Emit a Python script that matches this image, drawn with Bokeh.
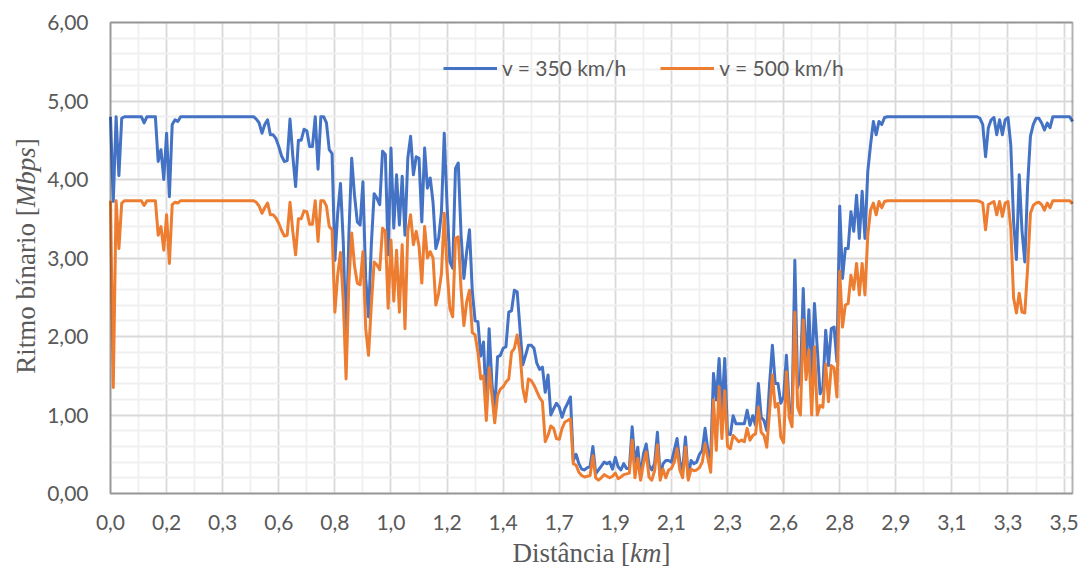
from math import pi

from bokeh.embed import file_html
from bokeh.models import (BoxAnnotation, ColumnDataSource, FixedTicker, Label,
                          Legend, LegendItem, Range1d)
from bokeh.plotting import figure
from bokeh.resources import INLINE

# Distance labels shown every `label_step` samples along the route
dist_labels = ["0,0", "0,2", "0,3", "0,6", "0,8", "1,0", "1,2", "1,4", "1,7",
               "1,9", "2,1", "2,3", "2,6", "2,8", "2,9", "3,1", "3,3", "3,5"]
label_step = 20

y_ticks = [0, 1, 2, 3, 4, 5, 6]
y_labels = ["0,00", "1,00", "2,00", "3,00", "4,00", "5,00", "6,00"]

# Bit rate [Mbps] per sample, train at 350 km/h
rate_350 = [
    4.80, 3.72, 4.80, 4.05, 4.78, 4.80, 4.80, 4.80, 4.80, 4.80,
    4.80, 4.80, 4.72, 4.80, 4.80, 4.80, 4.80, 4.23, 4.38, 4.00,
    4.59, 3.78, 4.70, 4.76, 4.74, 4.80, 4.80, 4.80, 4.80, 4.80,
    4.80, 4.80, 4.80, 4.80, 4.80, 4.80, 4.80, 4.80, 4.80, 4.80,
    4.80, 4.80, 4.80, 4.80, 4.80, 4.80, 4.80, 4.80, 4.80, 4.80,
    4.80, 4.80, 4.77, 4.72, 4.59, 4.70, 4.76, 4.57, 4.57, 4.52,
    4.42, 4.30, 4.23, 4.24, 4.77, 4.30, 3.91, 4.50, 4.50, 4.64,
    4.62, 4.42, 4.42, 4.80, 4.13, 4.80, 4.80, 4.72, 4.38, 4.33,
    2.97, 3.57, 3.95, 3.20, 1.90, 3.30, 4.27, 3.80, 3.46, 3.42,
    3.97, 2.74, 2.25, 3.17, 3.82, 3.76, 3.68, 4.36, 4.32, 3.04,
    4.40, 3.38, 4.06, 3.42, 4.04, 3.29, 4.27, 4.55, 4.06, 4.29,
    4.27, 3.46, 4.40, 3.89, 4.02, 3.71, 3.12, 3.25, 3.59, 4.59,
    3.67, 2.95, 2.87, 4.14, 4.21, 3.29, 2.74, 3.08, 3.36, 2.57,
    2.20, 2.19, 1.75, 1.93, 1.10, 2.10, 1.40, 1.05, 1.74, 1.76,
    1.85, 1.87, 2.31, 2.33, 2.59, 2.57, 2.10, 1.64, 1.76, 1.89,
    1.89, 1.85, 1.66, 1.58, 1.61, 1.29, 1.51, 1.00, 1.08, 1.15,
    1.10, 0.97, 1.08, 1.15, 1.23, 0.42, 0.50, 0.38, 0.31, 0.30,
    0.33, 0.34, 0.60, 0.25, 0.30, 0.35, 0.40, 0.38, 0.40, 0.31,
    0.46, 0.34, 0.30, 0.38, 0.32, 0.32, 0.85, 0.38, 0.59, 0.20,
    0.50, 0.63, 0.36, 0.30, 0.38, 0.78, 0.22, 0.38, 0.42, 0.42,
    0.40, 0.55, 0.70, 0.40, 0.30, 0.72, 0.21, 0.42, 0.38, 0.40,
    0.50, 0.55, 0.83, 0.55, 0.45, 1.53, 1.19, 1.72, 1.06, 1.72,
    0.76, 0.75, 0.99, 0.89, 0.89, 0.89, 0.89, 1.06, 0.87, 0.99,
    0.87, 1.40, 0.97, 0.93, 0.80, 1.40, 1.89, 1.40, 1.40, 1.15,
    1.23, 1.76, 1.10, 1.00, 2.97, 1.35, 1.48, 2.61, 1.55, 2.34,
    1.48, 2.42, 1.85, 1.27, 1.35, 2.08, 1.63, 2.10, 2.12, 1.68,
    3.66, 2.74, 3.12, 3.12, 3.59, 3.34, 3.80, 3.25, 3.85, 3.25,
    4.10, 4.44, 4.74, 4.57, 4.74, 4.70, 4.79, 4.80, 4.80, 4.80,
    4.80, 4.80, 4.80, 4.80, 4.80, 4.80, 4.80, 4.80, 4.80, 4.80,
    4.80, 4.80, 4.80, 4.80, 4.80, 4.80, 4.80, 4.80, 4.80, 4.80,
    4.80, 4.80, 4.80, 4.80, 4.80, 4.80, 4.80, 4.80, 4.80, 4.80,
    4.78, 4.70, 4.29, 4.66, 4.76, 4.79, 4.57, 4.76, 4.57, 4.76,
    4.79, 4.44, 3.46, 2.98, 4.06, 3.34, 2.95, 3.93, 4.55, 4.70,
    4.78, 4.78, 4.72, 4.63, 4.72, 4.66, 4.80, 4.80, 4.80, 4.80,
    4.80, 4.80, 4.80, 4.74,
]

# Bit rate [Mbps] per sample, train at 500 km/h
rate_500 = [
    3.73, 1.35, 3.73, 3.12, 3.70, 3.73, 3.73, 3.73, 3.73, 3.73,
    3.73, 3.73, 3.67, 3.73, 3.73, 3.73, 3.73, 3.29, 3.40, 3.10,
    3.55, 2.93, 3.68, 3.71, 3.70, 3.73, 3.73, 3.73, 3.73, 3.73,
    3.73, 3.73, 3.73, 3.73, 3.73, 3.73, 3.73, 3.73, 3.73, 3.73,
    3.73, 3.73, 3.73, 3.73, 3.73, 3.73, 3.73, 3.73, 3.73, 3.73,
    3.73, 3.73, 3.71, 3.66, 3.57, 3.64, 3.70, 3.55, 3.55, 3.51,
    3.44, 3.35, 3.28, 3.29, 3.71, 3.34, 3.04, 3.50, 3.50, 3.60,
    3.59, 3.43, 3.43, 3.73, 3.21, 3.73, 3.73, 3.66, 3.40, 3.36,
    2.31, 2.78, 3.07, 2.45, 1.46, 2.70, 3.32, 2.90, 2.68, 2.66,
    3.08, 2.10, 1.76, 2.40, 2.95, 2.91, 2.85, 3.38, 3.34, 2.36,
    3.23, 2.45, 3.10, 2.31, 3.17, 2.10, 3.34, 3.55, 3.17, 3.34,
    3.15, 2.68, 3.40, 3.00, 3.08, 3.00, 2.40, 2.55, 2.80, 3.57,
    2.85, 2.36, 2.25, 3.25, 3.27, 2.60, 2.14, 2.44, 2.59, 2.05,
    2.02, 1.80, 1.46, 1.50, 0.93, 1.60, 1.25, 0.90, 1.25, 1.33,
    1.36, 1.42, 1.46, 1.80, 1.85, 2.02, 1.80, 1.34, 1.17, 1.46,
    1.44, 1.38, 1.30, 1.22, 1.17, 0.66, 0.74, 0.86, 0.83, 0.70,
    0.69, 0.83, 0.91, 0.93, 0.95, 0.38, 0.36, 0.27, 0.23, 0.21,
    0.22, 0.23, 0.48, 0.20, 0.17, 0.20, 0.24, 0.22, 0.20, 0.22,
    0.26, 0.19, 0.21, 0.24, 0.25, 0.26, 0.68, 0.20, 0.45, 0.17,
    0.38, 0.53, 0.21, 0.17, 0.29, 0.62, 0.17, 0.31, 0.20, 0.30,
    0.32, 0.40, 0.57, 0.30, 0.20, 0.59, 0.17, 0.31, 0.29, 0.30,
    0.33, 0.40, 0.63, 0.45, 0.27, 1.19, 0.55, 1.36, 0.70, 1.31,
    0.60, 0.57, 0.74, 0.70, 0.66, 0.68, 0.66, 0.83, 0.68, 0.74,
    0.76, 1.10, 0.78, 0.74, 0.59, 1.05, 1.51, 1.10, 1.15, 0.72,
    0.65, 1.55, 0.97, 0.85, 2.31, 1.10, 1.00, 2.21, 1.45, 1.83,
    1.00, 1.87, 1.00, 1.12, 1.10, 1.65, 1.17, 1.63, 1.60, 1.23,
    2.83, 2.12, 2.40, 2.42, 2.78, 2.60, 2.93, 2.53, 2.93, 2.53,
    3.29, 3.61, 3.70, 3.55, 3.72, 3.64, 3.72, 3.73, 3.73, 3.73,
    3.73, 3.73, 3.73, 3.73, 3.73, 3.73, 3.73, 3.73, 3.73, 3.73,
    3.73, 3.73, 3.73, 3.73, 3.73, 3.73, 3.73, 3.73, 3.73, 3.73,
    3.73, 3.73, 3.73, 3.73, 3.73, 3.73, 3.73, 3.73, 3.73, 3.73,
    3.72, 3.70, 3.36, 3.68, 3.70, 3.72, 3.55, 3.72, 3.53, 3.70,
    3.72, 3.38, 2.49, 2.30, 2.55, 2.31, 2.30, 2.87, 3.57, 3.67,
    3.70, 3.71, 3.68, 3.61, 3.70, 3.64, 3.73, 3.73, 3.73, 3.73,
    3.73, 3.73, 3.73, 3.69,
]

BLUE = "#4472C4"
ORANGE = "#ED7D31"
TEXT = "#595959"
SANS = "Lato"
SERIF = "Liberation Serif"

# Canvas and plot-area geometry (pixels). The frame fills the whole canvas so
# that titles and tick labels outside the plot area are not clipped; the
# ranges are padded so the plot area sits at the margins below.
W, H = 1082, 566
LEFT, RIGHT, TOP, BOTTOM = 110, 10, 22, 73
area_w = W - LEFT - RIGHT
area_h = H - TOP - BOTTOM

n = len(rate_350)
Y_MAX = 6
x_per_px = (n - 1) / area_w
y_per_px = Y_MAX / area_h

src = ColumnDataSource(dict(sample=list(range(n)), v350=rate_350, v500=rate_500))

p = figure(width=W, height=H, output_backend="svg", toolbar_location=None,
           x_range=Range1d(-LEFT * x_per_px, (n - 1) + RIGHT * x_per_px),
           y_range=Range1d(-BOTTOM * y_per_px, Y_MAX + TOP * y_per_px),
           min_border=0)
p.background_fill_color = "white"
p.border_fill_color = "white"
p.outline_line_color = None

# Category-style x axis: labelled every label_step samples, minor grid halfway
x_major = [i * label_step for i in range(len(dist_labels))]
x_minor = [t + label_step // 2 for t in x_major if t + label_step // 2 < n]
x_ticker = FixedTicker(ticks=x_major, minor_ticks=x_minor)
y_minor = [round(k * 0.2, 1) for k in range(Y_MAX * 5 + 1) if k % 5 != 0]
y_ticker = FixedTicker(ticks=y_ticks, minor_ticks=y_minor)

xa, ya = p.xaxis[0], p.yaxis[0]
xa.fixed_location = 0
ya.fixed_location = 0
xa.ticker = x_ticker
ya.ticker = y_ticker
xa.major_label_overrides = {t: lbl for t, lbl in zip(x_major, dist_labels)}
ya.major_label_overrides = {t: lbl for t, lbl in zip(y_ticks, y_labels)}
for ax in (xa, ya):
    ax.axis_line_color = None
    ax.major_tick_line_color = None
    ax.minor_tick_line_color = None
    ax.major_tick_out = 0
    ax.major_tick_in = 0
    ax.minor_tick_out = 0
    ax.minor_tick_in = 0
    ax.major_label_text_font = SANS
    ax.major_label_text_font_size = "21px"
    ax.major_label_text_color = TEXT
xa.major_label_standoff = 21
ya.major_label_standoff = 22

p.xgrid.ticker = x_ticker
p.ygrid.ticker = y_ticker
p.xgrid.bounds = (0, n - 1)
p.xgrid.cross_bounds = (0, Y_MAX)
p.ygrid.bounds = (0, Y_MAX)
p.ygrid.cross_bounds = (0, n - 1)
for g in (p.xgrid, p.ygrid):
    g.grid_line_color = "#d9d9d9"
    g.grid_line_width = 1.8
    g.minor_grid_line_color = "#f0f0f0"
    g.minor_grid_line_width = 1.8

r350 = p.line("sample", "v350", source=src, line_color=BLUE, line_width=3,
              line_join="round")
r500 = p.line("sample", "v500", source=src, line_color=ORANGE, line_width=3,
              line_join="round")

# Plot-area border
p.add_layout(BoxAnnotation(left=0, right=n - 1, bottom=0, top=Y_MAX,
                           fill_alpha=0, line_color="black", line_width=2))

legend = Legend(items=[LegendItem(label="v = 350 km/h", renderers=[r350]),
                       LegendItem(label="v = 500 km/h", renderers=[r500])],
                orientation="horizontal", location=(443, H - 80),
                padding=0, margin=0, spacing=34, glyph_width=54,
                glyph_height=20, label_standoff=5,
                background_fill_alpha=0, border_line_alpha=0)
legend.label_text_font = SANS
legend.label_text_font_size = "21px"
legend.label_text_color = TEXT
p.add_layout(legend)

# ---- axis titles: upright text with italic units (Times advance widths) ----
ROMAN = {'D': 722, 'i': 278, 's': 389, 't': 278, 'â': 444, 'n': 500, 'c': 444,
         'a': 444, ' ': 250, '[': 333, ']': 333, 'R': 667, 'm': 778, 'o': 500,
         'b': 500, 'í': 278, 'r': 333}
ITALIC = {'k': 444, 'm': 722, 'M': 833, 'b': 500, 'p': 500, 's': 389}
FS = 27


def title(pieces, vertical, mid, base):
    widths = [sum((ITALIC if it else ROMAN)[ch] for ch in s) * FS / 1000.0
              for s, it in pieces]
    pos = mid - sum(widths) / 2
    for (s, it), w in zip(pieces, widths):
        kw = dict(text=s, x_units="screen", y_units="screen",
                  text_font=SERIF, text_font_size=f"{FS}px",
                  text_font_style="italic" if it else "normal",
                  text_color=TEXT, text_align="left",
                  text_baseline="alphabetic")
        if vertical:
            p.add_layout(Label(x=base, y=pos, angle=pi / 2, **kw))
        else:
            p.add_layout(Label(x=pos, y=base, **kw))
        pos += w


title([("Distância [", False), ("km", True), ("]", False)], False,
      LEFT + area_w / 2, 14)
title([("Ritmo bínario [", False), ("Mbps", True), ("]", False)], True,
      BOTTOM + area_h / 2 + 2, 25)

open("out.html", "w").write(file_html(p, INLINE))
